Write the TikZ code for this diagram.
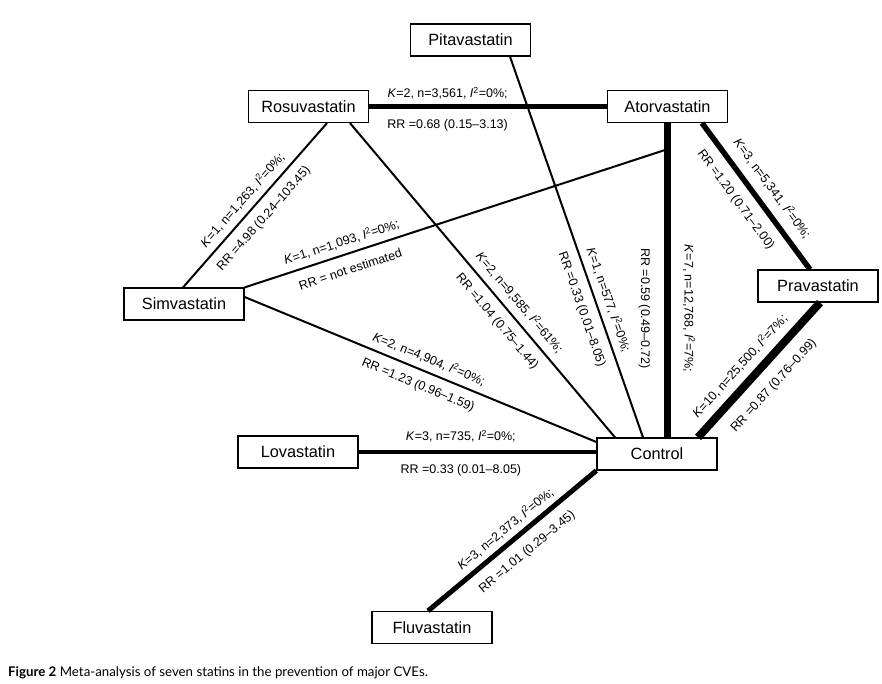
\documentclass[tikz,border=0pt]{standalone}
\usepackage{fontspec}
\setmainfont{Liberation Sans}
\newfontfamily\capfont{Lato}
\newcommand{\Isq}{\textit{I}\textsuperscript{2}}
\begin{document}
\begin{tikzpicture}[x=1pt,y=-1pt,
  box/.style={draw, line width=1.2pt, minimum width=120pt, minimum height=32pt, inner sep=0pt, font=\fontsize{16.3}{19}\selectfont},
  thinedge/.style={line width=2pt},
  lab/.style={font=\fontsize{12.5}{14}\selectfont, text height=9pt, text depth=2.6pt},
  ka/.style={lab, sloped, above, inner sep=#1},
  rb/.style={lab, sloped, below, inner sep=#1},
]
\useasboundingbox (0,0) rectangle (882,683);

\node[box] (pita)  at (470.5,40)   {Pitavastatin};
\node[box] (rosu)  at (308.5,106.5) {Rosuvastatin};
\node[box] (ator)  at (667.5,106.5) {Atorvastatin};
\node[box] (prava) at (818,286)    {Pravastatin};
\node[box] (simva) at (184,304)    {Simvastatin};
\node[box] (lova)  at (298,452)    {Lovastatin};
\node[box] (ctrl)  at (657,454)    {Control};
\node[box] (fluva) at (432,627.5)  {Fluvastatin};
\coordinate (aj) at (665,150);

% Rosuvastatin - Atorvastatin
\draw[line width=5pt] (rosu.east) --
  node[ka=4pt,pos=0.33]{\textit{K}=2, n=3,561, \Isq=0\%;}
  node[rb=10pt,pos=0.33]{RR =0.68 (0.15–3.13)} (ator.west);

% Simvastatin - Rosuvastatin
\draw[thinedge] ([xshift=-1pt]simva.north) --
  node[ka=5pt,pos=0.48]{\textit{K}=1, n=1,263, \Isq=0\%;}
  node[rb=9pt,pos=0.48]{RR =4.98 (0.24–103.45)} ([xshift=18.5pt]rosu.south);

% Simvastatin - Atorvastatin
\draw[thinedge] (simva.north east) --
  node[ka=5pt,pos=0.24]{\textit{K}=1, n=1,093, \Isq=0\%;}
  node[rb=10pt,pos=0.24]{RR = not estimated} (aj);

% Rosuvastatin - Control
\draw[thinedge] ([xshift=41.5pt]rosu.south) --
  node[ka=6pt,pos=0.6]{\textit{K}=2, n=9,585, \Isq=61\%;}
  node[rb=9pt,pos=0.6]{RR =1.04 (0.75–1.44)} ([xshift=-42pt]ctrl.north);

% Pitavastatin - Control
\draw[thinedge] ([xshift=39.5pt]pita.south) --
  node[ka=5pt,pos=0.65]{\textit{K}=1, n=577, \Isq=0\%;}
  node[rb=9pt,pos=0.65]{RR =0.33 (0.01–8.05)} ([xshift=-14pt]ctrl.north);

% Atorvastatin - Control
\draw[line width=7pt] (ator.south) --
  node[lab,rotate=-90,above,inner sep=11pt,pos=0.59]{\textit{K}=7, n=12,768, \Isq=7\%;}
  node[lab,rotate=-90,below,inner sep=14pt,pos=0.59]{RR =0.59 (0.49–0.72)} (ator.south |- ctrl.north);

% Atorvastatin - Pravastatin
\draw[line width=5.5pt] ([xshift=34.5pt]ator.south) --
  node[ka=8pt,pos=0.52]{\textit{K}=3, n=5,341, \Isq=0\%;}
  node[rb=10pt,pos=0.45]{RR =1.20 (0.71–2.00)} ([xshift=-8pt]prava.north);

% Control - Pravastatin
\draw[line width=8pt] ([xshift=41pt]ctrl.north) --
  node[ka=6pt,pos=0.445]{\textit{K}=10, n=25,500, \Isq=7\%;}
  node[rb=12pt,pos=0.49]{RR =0.87 (0.76–0.99)} ([xshift=2pt]prava.south);

% Simvastatin - Control
\draw[thinedge] ([yshift=7pt]simva.east) --
  node[ka=5pt,pos=0.51]{\textit{K}=2, n=4,904, \Isq=0\%;}
  node[rb=9pt,pos=0.51]{RR =1.23 (0.96–1.59)} ([yshift=12pt]ctrl.west);

% Lovastatin - Control
\draw[line width=4pt] (lova.east) --
  node[ka=7pt,pos=0.43]{\textit{K}=3, n=735, \Isq=0\%;}
  node[rb=10pt,pos=0.43]{RR =0.33 (0.01–8.05)} (lova.east -| ctrl.west);

% Fluvastatin - Control
\draw[line width=5pt] ([xshift=-4pt]fluva.north) --
  node[ka=4pt,pos=0.51]{\textit{K}=3, n=2,373, \Isq=0\%;}
  node[rb=10pt,pos=0.52]{RR =1.01 (0.29–3.45)} (ctrl.south west);

\node[anchor=base west, inner sep=0pt, font=\capfont\fontsize{13.3}{15}\selectfont] (cap) at (8,676.5)
  {\textbf{Figure 2} Meta-analysis of seven statins in the prevention of major CVEs.};
\end{tikzpicture}
\end{document}
